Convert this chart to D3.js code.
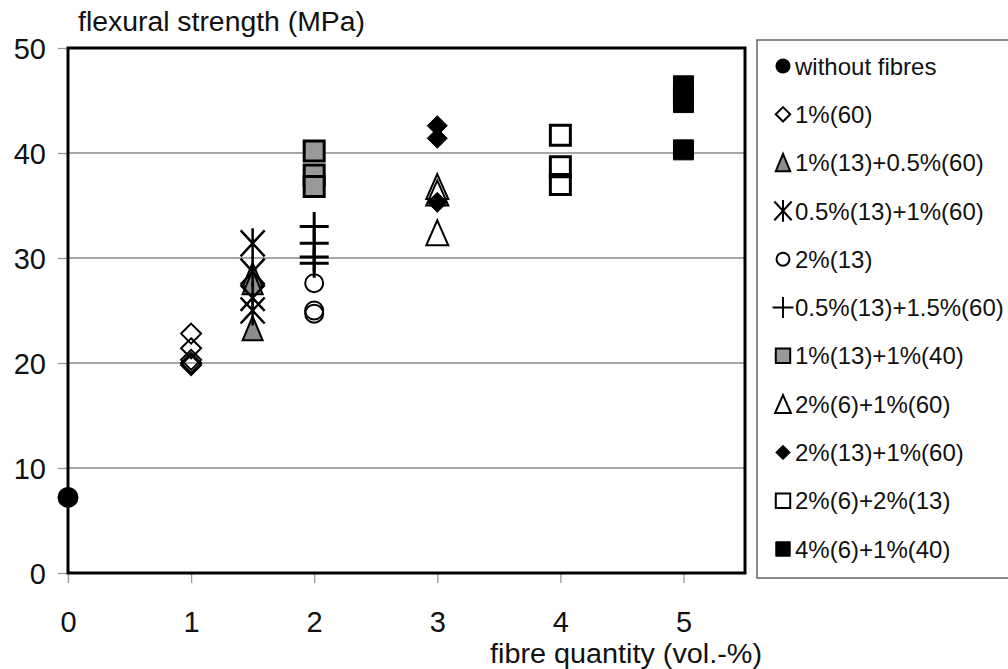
<!DOCTYPE html>
<html>
<head>
<meta charset="utf-8">
<script src="https://cdn.jsdelivr.net/npm/d3@7"></script>
<style>
  body { margin: 0; background: #fff; }
  svg { display: block; font-family: "Liberation Sans", Arial, sans-serif; }
</style>
</head>
<body>
<svg id="chart" width="1008" height="669"></svg>
<script>
// series, one x value each, several measured strengths
const seriesNames = [
  "without fibres", "1%(60)", "1%(13)+0.5%(60)", "0.5%(13)+1%(60)", "2%(13)",
  "0.5%(13)+1.5%(60)", "1%(13)+1%(40)", "2%(6)+1%(60)", "2%(13)+1%(60)",
  "2%(6)+2%(13)", "4%(6)+1%(40)"
];
const seriesX = [0, 1, 1.5, 1.5, 2, 2, 2, 3, 3, 4, 5];
const seriesValues = [
  [7.2],
  [22.8, 21.4, 20.3, 20.0, 19.8],
  [28.4, 27.7, 23.3],
  [31.4, 28.7, 26.2, 25.0],
  [27.6, 25.0, 24.7],
  [33.0, 31.4, 30.1, 29.5],
  [40.2, 37.9, 36.8],
  [36.8, 36.2, 32.4],
  [42.6, 41.4, 35.3],
  [41.7, 38.7, 37.0],
  [46.4, 45.4, 44.8, 40.3]
];
const seriesShapes = [
  "dot", "diamondOpen", "triangleGray", "asterisk", "circleOpen",
  "plus", "squareGray", "triangleOpen", "diamondFilled", "squareOpen", "squareFilled"
];
const xTicks = [0, 1, 2, 3, 4, 5];
const yTicks = [0, 10, 20, 30, 40, 50];

const svg = d3.select("#chart");
const plot = { left: 68, right: 745, top: 48, bottom: 573 };

const x = d3.scaleLinear().domain([0, 5.5]).range([plot.left, plot.right]);
const y = d3.scaleLinear().domain([0, 50]).range([plot.bottom, plot.top]);

// gridlines
svg.append("g")
  .selectAll("line")
  .data([10, 20, 30, 40])
  .join("line")
  .attr("x1", plot.left).attr("x2", plot.right)
  .attr("y1", d => y(d)).attr("y2", d => y(d))
  .attr("stroke", "#8a8a8a")
  .attr("stroke-width", 1.3);

// axes
const yAxis = svg.append("g")
  .attr("transform", `translate(${plot.left},0)`)
  .call(d3.axisLeft(y).tickValues(yTicks).tickFormat(d3.format("d")).tickSize(10).tickPadding(12));
const xAxis = svg.append("g")
  .attr("transform", `translate(0,${plot.bottom})`)
  .call(d3.axisBottom(x).tickValues(xTicks).tickFormat(d3.format("d")).tickSize(10).tickPadding(28));

[yAxis, xAxis].forEach(g => {
  g.select(".domain").remove();
  g.selectAll(".tick line").attr("stroke", "#999").attr("stroke-width", 1.3);
  g.selectAll(".tick text")
    .attr("fill", "#111")
    .style("font-size", "29px")
    .style("font-family", "'Liberation Sans', Arial, sans-serif");
});
yAxis.selectAll(".tick text").attr("dy", "0.36em");
xAxis.selectAll(".tick text").attr("dy", "0.71em");

// plot frame
svg.append("rect")
  .attr("x", plot.left).attr("y", plot.top)
  .attr("width", plot.right - plot.left)
  .attr("height", plot.bottom - plot.top)
  .attr("fill", "none")
  .attr("stroke", "#000")
  .attr("stroke-width", 3);

// marker shapes, s = scale factor
const markerPath = (shape, s) => {
  const p = d3.path();
  if (shape === "dot" || shape === "circleOpen") {
    const r = (shape === "dot" ? 10.5 : 9) * s;
    p.arc(0, 0, r, 0, 2 * Math.PI);
  } else if (shape.startsWith("diamond")) {
    const h = 10 * s;
    p.moveTo(0, -h); p.lineTo(h, 0); p.lineTo(0, h); p.lineTo(-h, 0); p.closePath();
  } else if (shape.startsWith("triangle")) {
    const w = (shape === "triangleGray" ? 10 : 11) * s, h = (shape === "triangleGray" ? 12 : 12.5) * s;
    p.moveTo(0, -h); p.lineTo(w, h); p.lineTo(-w, h); p.closePath();
  } else if (shape.startsWith("square")) {
    const h = 10 * s;
    p.rect(-h, -h, 2 * h, 2 * h);
  } else if (shape === "asterisk") {
    const a = 12 * s, b = 13 * s, v = 15 * s;
    p.moveTo(-a, -b); p.lineTo(a, b);
    p.moveTo(a, -b); p.lineTo(-a, b);
    p.moveTo(0, -v); p.lineTo(0, v);
  } else if (shape === "plus") {
    const h = 14.5 * s;
    p.moveTo(-h, 0); p.lineTo(h, 0);
    p.moveTo(0, -h); p.lineTo(0, h);
  }
  return p.toString();
};

const markerStyle = {
  dot:           { fill: "#000", stroke: "none", sw: 0 },
  diamondOpen:   { fill: "none", stroke: "#000", sw: 2 },
  triangleGray:  { fill: "#8c8c8c", stroke: "#000", sw: 2 },
  asterisk:      { fill: "none", stroke: "#000", sw: 2.5 },
  circleOpen:    { fill: "none", stroke: "#000", sw: 2 },
  plus:          { fill: "none", stroke: "#000", sw: 3 },
  squareGray:    { fill: "#999", stroke: "#000", sw: 3 },
  triangleOpen:  { fill: "none", stroke: "#000", sw: 2 },
  diamondFilled: { fill: "#000", stroke: "#000", sw: 1 },
  squareOpen:    { fill: "none", stroke: "#000", sw: 3 },
  squareFilled:  { fill: "#000", stroke: "#000", sw: 1 }
};

const points = seriesValues.flatMap((vals, i) =>
  vals.map(v => ({ series: i, x: seriesX[i], y: v, shape: seriesShapes[i] })));

svg.append("g")
  .selectAll("path")
  .data(points)
  .join("path")
  .attr("transform", d => `translate(${x(d.x)},${y(d.y)})`)
  .attr("d", d => markerPath(d.shape, 1))
  .attr("fill", d => markerStyle[d.shape].fill)
  .attr("stroke", d => markerStyle[d.shape].stroke)
  .attr("stroke-width", d => markerStyle[d.shape].sw);

// axis titles
svg.append("text")
  .attr("x", 78).attr("y", 31)
  .attr("textLength", 287).attr("lengthAdjust", "spacingAndGlyphs")
  .style("font-size", "27px").attr("fill", "#111")
  .text("flexural strength (MPa)");

svg.append("text")
  .attr("x", 490).attr("y", 663)
  .attr("textLength", 272).attr("lengthAdjust", "spacingAndGlyphs")
  .style("font-size", "27px").attr("fill", "#111")
  .text("fibre quantity (vol.-%)");

// legend
const legend = svg.append("g");
legend.append("rect")
  .attr("x", 757).attr("y", 40)
  .attr("width", 260).attr("height", 538)
  .attr("fill", "#fff")
  .attr("stroke", "#666")
  .attr("stroke-width", 1.5);

const rows = legend.selectAll("g.row")
  .data(seriesNames)
  .join("g")
  .attr("class", "row")
  .attr("transform", (d, i) => `translate(783,${66 + i * 48.3})`);

rows.append("path")
  .attr("d", (d, i) => markerPath(seriesShapes[i], 0.72))
  .attr("fill", (d, i) => markerStyle[seriesShapes[i]].fill)
  .attr("stroke", (d, i) => markerStyle[seriesShapes[i]].stroke)
  .attr("stroke-width", (d, i) => Math.min(markerStyle[seriesShapes[i]].sw, 2));

rows.append("text")
  .attr("x", 12)
  .attr("dy", "0.36em")
  .style("font-size", "24px")
  .attr("fill", "#111")
  .text(d => d);
</script>
</body>
</html>
